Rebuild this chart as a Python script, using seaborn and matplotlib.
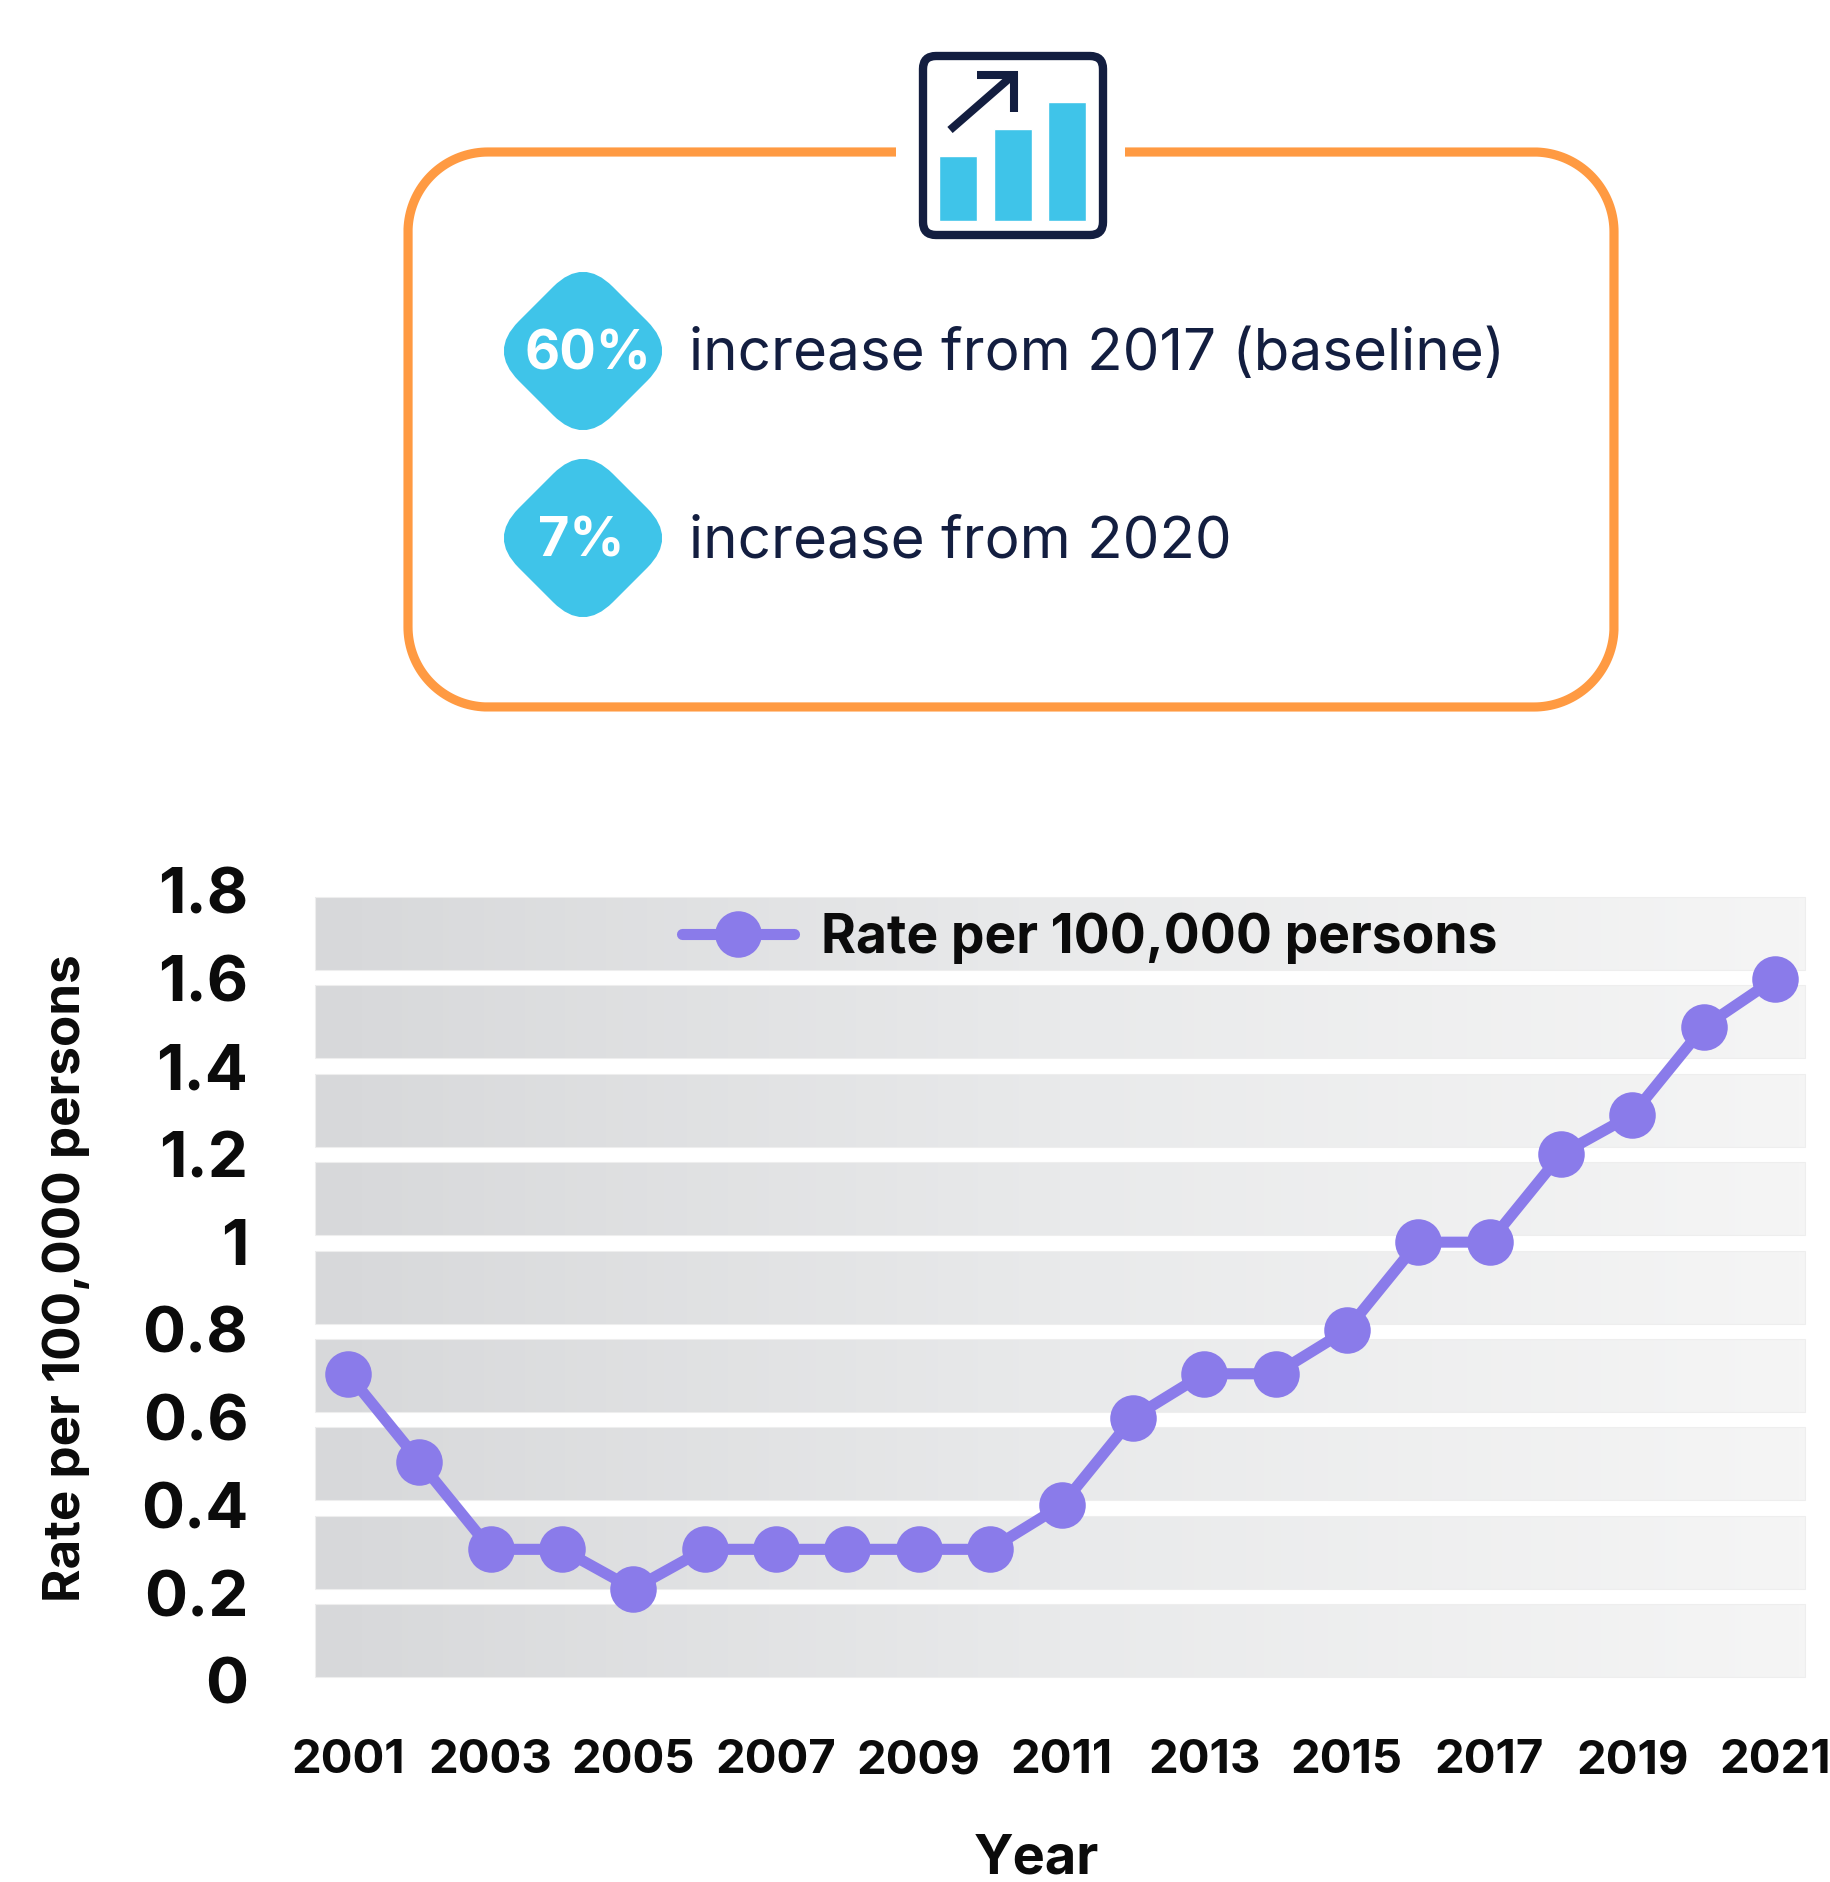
import matplotlib
matplotlib.use("Agg")
import numpy as np
import pandas as pd
import seaborn as sns
import matplotlib.pyplot as plt
from matplotlib.patches import FancyBboxPatch, Rectangle
from matplotlib.transforms import Affine2D

# Rates per 100,000 persons by year
years = [2001, 2002, 2003, 2004, 2005, 2006, 2007, 2008, 2009, 2010, 2011,
         2012, 2013, 2014, 2015, 2016, 2017, 2018, 2019, 2020, 2021]
rates = [0.7, 0.5, 0.3, 0.3, 0.21, 0.3, 0.3, 0.3, 0.3, 0.3, 0.4,
         0.6, 0.7, 0.7, 0.8, 1.0, 1.0, 1.2, 1.29, 1.49, 1.6]
y_ticks = [0, 0.2, 0.4, 0.6, 0.8, 1, 1.2, 1.4, 1.6, 1.8]
y_tick_labels = ["0", "0.2", "0.4", "0.6", "0.8", "1", "1.2", "1.4", "1.6", "1.8"]
x_ticks = years[::2]
band_bottoms = [0.009, 0.210, 0.412, 0.613, 0.814, 1.016, 1.217, 1.419, 1.620]
band_height = 0.166
callouts = [("60%", "increase from 2017 (baseline)"), ("7%", "increase from 2020")]
icon_bar_heights = [65, 92, 119]

NAVY = "#131e40"
ORANGE = "#ff9a42"
SKY = "#3fc4e9"
PURPLE = "#8a7bea"
INK = "#0b0b0b"
FONT = "Inter"
W, H = 1830, 1882

sns.set_theme(style="white")
plt.rcParams["font.family"] = [FONT, "DejaVu Sans"]

fig = plt.figure(figsize=(W / 100, H / 100), dpi=100, facecolor="white")

# Line chart with striped gradient background
ax = fig.add_axes([315 / W, 1 - 1681 / H, 1490 / W, 790 / H])
xmin = 2001 - 33 / 71.35
xmax = 2021 + 30 / 71.35
gradient = np.linspace(0, 1, 256).reshape(1, -1)
cmap = matplotlib.colors.LinearSegmentedColormap.from_list(
    "band", [(0, "#d7d8da"), (0.5, "#e9eaeb"), (1, "#f5f5f5")])
for b in band_bottoms:
    ax.imshow(gradient, extent=[xmin, xmax, b, b + band_height], aspect="auto",
              cmap=cmap, zorder=1, clip_on=False)
    ax.add_patch(Rectangle((xmin, b), xmax - xmin, band_height, fill=False,
                           edgecolor="#eeeeee", linewidth=0.8, zorder=1.1, clip_on=False))

df = pd.DataFrame({"year": years, "rate": rates})
sns.lineplot(data=df, x="year", y="rate", ax=ax, color=PURPLE, linewidth=8,
             marker="o", markersize=33.5, markeredgewidth=0, zorder=3,
             label="Rate per 100,000 persons", clip_on=False)

ax.set_xlim(xmin, xmax)
ax.set_ylim(0, 1.8)
ax.set_xticks(x_ticks)
ax.set_xticklabels([str(y) for y in x_ticks], fontsize=34, fontweight="bold", color=INK)
ax.set_yticks(y_ticks)
ax.set_yticklabels(y_tick_labels, fontsize=46, fontweight="bold", color=INK)
ax.tick_params(axis="x", length=0, pad=42)
ax.tick_params(axis="y", length=0, pad=48)
for spine in ax.spines.values():
    spine.set_visible(False)
ax.set_xlabel("Year", fontsize=39, fontweight="bold", color=INK)
ax.set_ylabel("Rate per 100,000 persons", fontsize=36.8, fontweight="bold", color=INK)
ax.yaxis.set_label_coords(-225 / 1490, 0.51)
ax.xaxis.set_label_coords(721 / 1490, -152 / 790)
ax.patch.set_alpha(0)

leg = ax.legend(loc="center left", bbox_to_anchor=(367 / 1490, 0.9406), frameon=False,
                prop={"size": 38.4, "weight": "bold"}, handlelength=2.1,
                handletextpad=0.5, borderpad=0, borderaxespad=0)
for t in leg.get_texts():
    t.set_color(INK)

# Overlay in pixel units for the callout box and icon
ov = fig.add_axes([0, 0, 1, 1], zorder=-1)
ov.set_xlim(0, W)
ov.set_ylim(H, 0)
ov.axis("off")


def corner(cx, cy, r, start_deg, end_deg):
    """Points along a circular corner arc in pixel units."""
    angles = np.radians(np.linspace(start_deg, end_deg, 40))
    return cx + r * np.cos(angles), cy + r * np.sin(angles)


# Orange outline, open at the top where the icon sits
left, right, top, bottom, radius = 408, 1614, 152, 707, 80
arcs = [corner(right - radius, top + radius, radius, -90, 0),
        corner(right - radius, bottom - radius, radius, 0, 90),
        corner(left + radius, bottom - radius, radius, 90, 180),
        corner(left + radius, top + radius, radius, 180, 270)]
outline_x = np.concatenate([[1125]] + [a[0] for a in arcs] + [[896]])
outline_y = np.concatenate([[top]] + [a[1] for a in arcs] + [[top]])
ov.plot(outline_x, outline_y, color=ORANGE, lw=6.6, solid_capstyle="butt", solid_joinstyle="round")

ov.add_patch(FancyBboxPatch((923, 56), 180, 179, boxstyle="round,pad=0,rounding_size=13",
                            facecolor="white", edgecolor=NAVY, linewidth=6, zorder=3))
for bar_left, h in zip([939, 994, 1048], icon_bar_heights):
    ov.bar(bar_left, h, width=38, bottom=221 - h, align="edge", color=SKY, zorder=4)
ov.plot([950, 1012], [130, 76], color=NAVY, lw=5.8, solid_capstyle="butt", zorder=4)
ov.plot([977, 1014, 1014], [75, 75, 112], color=NAVY, lw=5.8,
        solid_joinstyle="miter", solid_capstyle="butt", zorder=4)

# Rounded diamonds with percentage badges and their captions
for (pct, caption), cy in zip(callouts, [351, 538]):
    diamond = FancyBboxPatch((-66.5, -66.5), 133, 133, boxstyle="round,pad=0,rounding_size=42",
                             facecolor=SKY, edgecolor="none", zorder=3)
    diamond.set_transform(Affine2D().rotate_deg(45).translate(583, cy) + ov.transData)
    ov.add_patch(diamond)
    ov.text(588 if pct == "60%" else 581, cy + 4, pct, color="white", fontsize=39,
            fontweight="bold", ha="center", va="center", zorder=4)
    ov.text(689, cy + 4, caption, color=NAVY, fontsize=42, fontweight="normal",
            ha="left", va="center", zorder=4)

fig.savefig("out.png", dpi=100, facecolor="white")
